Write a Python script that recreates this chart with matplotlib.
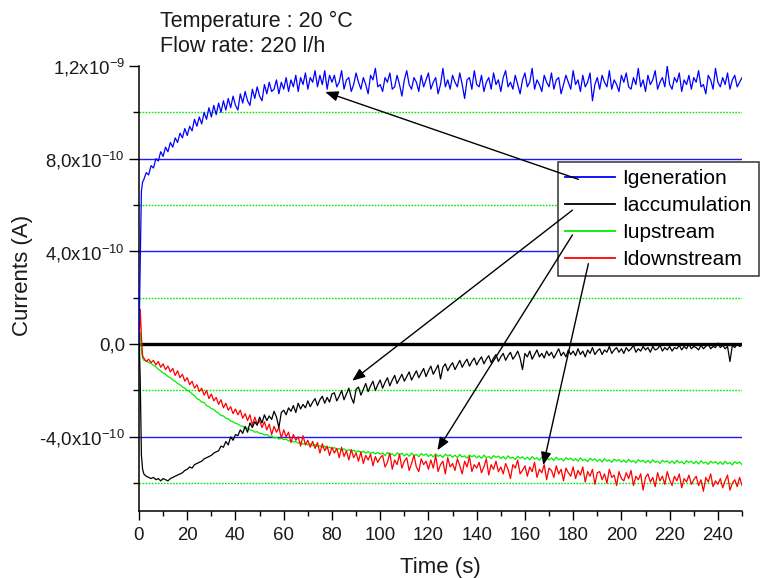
import matplotlib
matplotlib.use('Agg')
import matplotlib.pyplot as plt
import numpy as np
from matplotlib.ticker import FixedLocator

plt.rcParams['font.family'] = ['Liberation Sans', 'DejaVu Sans']
plt.rcParams['mathtext.fontset'] = 'custom'
plt.rcParams['mathtext.rm'] = 'Liberation Sans'
plt.rcParams['mathtext.it'] = 'Liberation Sans:italic'
plt.rcParams['mathtext.bf'] = 'Liberation Sans:bold'

# ---------------- data (currents in units of 1e-10 A) ----------------
time_s = [0, 0.5, 1, 1.5] + list(range(2, 251))

i_generation = [
    0.0, 3.5, 6.6, 7.0,
    7.1, 7.4, 7.3, 7.7, 7.6, 8.0, 7.9, 8.3, 8.1,
    8.5, 8.3, 8.7, 8.5, 8.9, 8.7, 9.1, 8.9, 9.3, 9.0,
    9.4, 9.2, 9.7, 9.4, 9.8, 9.5, 10.0, 9.7, 10.2, 9.8,
    10.3, 9.9, 10.4, 10.0, 10.5, 10.1, 10.6, 10.2, 10.7, 10.3,
    10.1, 10.8, 10.4, 10.9, 10.5, 10.3, 11.0, 10.6, 11.1, 10.7,
    10.5, 11.2, 10.8, 11.3, 10.9, 11.0, 11.4, 10.8, 11.3, 11.0,
    11.5, 10.9, 11.4, 11.1, 11.6, 10.9, 11.5, 11.2, 11.7, 11.0,
    11.5, 11.3, 11.8, 11.1, 11.6, 11.2, 11.8, 11.0, 11.6, 11.3,
    11.6, 11.1, 11.3, 11.8, 11.0, 11.4, 11.5, 10.9, 11.2, 11.7,
    11.3, 11.0, 11.5, 11.2, 10.8, 11.6, 11.4, 11.9, 11.1, 11.2,
    10.9, 11.5, 11.3, 11.7, 11.0, 11.1, 11.6, 11.2, 10.7, 11.4,
    11.8, 11.2, 11.0, 11.5, 11.3, 10.9, 11.6, 11.1, 11.4, 11.7,
    11.0, 11.3, 11.5, 10.8, 11.2, 11.9, 11.1, 11.4, 11.0, 11.6,
    11.3, 11.1, 11.7, 11.2, 10.6, 11.4, 11.5, 11.0, 11.8, 11.2,
    11.1, 11.6, 10.9, 11.3, 11.5, 11.0, 11.7, 11.2, 11.4, 10.9,
    11.5, 11.8, 11.1, 11.3, 11.0, 11.6, 11.2, 10.8, 11.4, 11.7,
    11.1, 11.3, 11.9, 11.0, 11.4, 11.2, 10.9, 11.6, 11.3, 11.1,
    11.7, 11.0, 11.4, 11.5, 10.8, 11.2, 11.6, 11.3, 11.0, 11.8,
    11.2, 11.4, 10.9, 11.6, 11.1, 11.3, 11.7, 10.5, 11.2, 11.5,
    11.0, 11.6, 11.3, 11.1, 11.8, 11.0, 11.4, 11.2, 10.9, 11.6,
    11.3, 11.7, 11.1, 11.0, 11.5, 11.2, 11.9, 11.1, 11.4, 10.9,
    11.6, 11.2, 11.4, 11.8, 11.0, 11.3, 11.5, 11.1, 12.0, 11.2,
    11.0, 11.5, 11.3, 11.7, 10.9, 11.4, 11.2, 11.6, 11.0, 11.5,
    11.3, 11.8, 11.1, 11.2, 10.8, 11.6, 11.4, 11.0, 11.9, 11.3,
    11.1, 11.5, 11.2, 11.7, 11.0, 11.4, 11.6, 11.1, 11.3, 11.5,
]

i_accumulation = [
    0.5, -1.5, -4.8, -5.4,
    -5.6, -5.7, -5.75, -5.8, -5.75, -5.85, -5.8, -5.9, -5.8,
    -5.85, -5.9, -5.8, -5.75, -5.7, -5.65, -5.6, -5.55, -5.45, -5.4,
    -5.3, -5.35, -5.2, -5.15, -5.1, -5.05, -4.95, -4.9, -4.85, -4.8,
    -4.7, -4.65, -4.6, -4.4, -4.45, -4.2, -4.35, -4.0, -4.15, -3.9,
    -3.95, -3.7, -3.85, -3.55, -3.8, -3.4, -3.6, -3.35, -3.5, -3.15,
    -3.4, -3.05, -3.3, -3.1, -3.25, -2.9, -3.15, -3.6, -2.95, -2.85,
    -3.05, -2.75, -2.9, -2.65, -2.95, -2.55, -2.8, -2.6, -2.75, -2.45,
    -2.7, -2.5, -2.35, -2.65, -2.4, -2.25, -2.55, -2.3, -2.5, -2.15,
    -2.1, -2.45, -2.25, -2.0, -2.4, -2.15, -1.9, -2.3, -2.55, -1.95,
    -1.85, -2.2, -1.95, -1.7, -2.05, -1.8, -1.6, -2.0, -1.75, -1.55,
    -1.9, -1.65, -1.45, -1.8, -1.55, -1.35, -1.7, -1.5, -1.3, -1.6,
    -1.4, -1.2, -1.55, -1.35, -1.15, -1.45, -1.25, -1.05, -1.4, -1.15,
    -0.95, -1.3, -1.1, -0.9, -1.5, -1.0, -0.85, -1.15, -0.95, -0.8,
    -1.1, -0.9, -0.7, -1.0, -0.8, -0.65, -0.95, -0.75, -0.6, -0.9,
    -0.7, -0.55, -0.85, -0.65, -0.5, -0.8, -0.6, -0.45, -0.75, -0.55,
    -0.4, -0.7, -0.5, -0.35, -0.65, -0.5, -0.3, -0.6, -1.1, -0.4,
    -0.55, -0.3, -0.65, -0.45, -0.25, -0.55, -0.4, -0.6, -0.3, -0.5,
    -0.35, -0.6, -0.4, -0.2, -0.5, -0.35, -0.55, -0.25, -0.45, -0.3,
    -0.5, -0.2, -0.45, -0.3, -0.55, -0.25, -0.4, -0.15, -0.45, -0.3,
    -0.2, -0.45, -0.25, -0.35, -0.1, -0.4, -0.25, -0.15, -0.35, -0.2,
    -0.4, -0.15, -0.3, -0.2, -0.05, -0.35, -0.2, -0.3, -0.1, -0.25,
    -0.15, -0.35, -0.1, -0.25, -0.2, -0.05, -0.3, -0.15, -0.25, -0.1,
    -0.3, -0.15, -0.2, -0.05, -0.25, -0.1, -0.2, 0.0, -0.2, -0.1,
    -0.15, -0.25, -0.05, -0.2, -0.1, 0.0, -0.2, -0.1, -0.15, 0.05,
    -0.15, -0.05, -0.2, -0.1, -0.75, -0.05, -0.15, 0.0, -0.1, -0.05,
]

i_upstream = [
    0.0, 0.5, -0.3, -0.6,
    -0.7, -0.72, -0.8, -0.83, -0.92, -0.98, -1.08, -1.15, -1.25,
    -1.3, -1.4, -1.45, -1.55, -1.6, -1.7, -1.75, -1.85, -1.9, -2.0,
    -2.05, -2.15, -2.22, -2.35, -2.4, -2.5, -2.52, -2.65, -2.7, -2.78,
    -2.82, -2.92, -2.98, -3.08, -3.1, -3.2, -3.22, -3.32, -3.35, -3.42,
    -3.45, -3.52, -3.55, -3.62, -3.62, -3.7, -3.72, -3.8, -3.78, -3.85,
    -3.86, -3.92, -3.9, -3.98, -3.96, -4.05, -4.02, -4.1, -4.06, -4.12,
    -4.1, -4.18, -4.15, -4.22, -4.2, -4.28, -4.24, -4.32, -4.28, -4.35,
    -4.3, -4.38, -4.34, -4.42, -4.38, -4.46, -4.4, -4.5, -4.44, -4.52,
    -4.46, -4.55, -4.5, -4.58, -4.52, -4.6, -4.55, -4.63, -4.57, -4.66,
    -4.6, -4.68, -4.62, -4.7, -4.64, -4.72, -4.66, -4.74, -4.67, -4.75,
    -4.70, -4.81, -4.67, -4.78, -4.73, -4.83, -4.69, -4.77, -4.71, -4.82,
    -4.73, -4.84, -4.70, -4.81, -4.76, -4.86, -4.72, -4.80, -4.74, -4.85,
    -4.76, -4.87, -4.73, -4.84, -4.79, -4.89, -4.75, -4.83, -4.77, -4.88,
    -4.79, -4.90, -4.76, -4.87, -4.82, -4.92, -4.78, -4.86, -4.80, -4.91,
    -4.82, -4.93, -4.79, -4.90, -4.85, -4.95, -4.81, -4.89, -4.83, -4.94,
    -4.85, -4.96, -4.82, -4.93, -4.88, -4.98, -4.84, -4.92, -4.86, -4.97,
    -4.88, -4.99, -4.85, -4.96, -4.91, -5.01, -4.87, -4.95, -4.89, -5.00,
    -4.91, -5.02, -4.88, -4.99, -4.94, -5.04, -4.90, -4.98, -4.92, -5.03,
    -4.94, -5.05, -4.91, -5.02, -4.97, -5.07, -4.93, -5.01, -4.95, -5.06,
    -4.97, -5.08, -4.94, -5.05, -5.00, -5.10, -4.96, -5.04, -4.98, -5.09,
    -5.00, -5.11, -4.97, -5.08, -5.03, -5.13, -4.99, -5.07, -5.01, -5.12,
    -5.02, -5.13, -4.99, -5.10, -5.05, -5.15, -5.01, -5.09, -5.03, -5.14,
    -5.04, -5.15, -5.01, -5.12, -5.07, -5.17, -5.03, -5.11, -5.05, -5.16,
    -5.06, -5.17, -5.03, -5.14, -5.09, -5.19, -5.05, -5.13, -5.07, -5.18,
    -5.08, -5.19, -5.05, -5.16, -5.11, -5.21, -5.07, -5.15, -5.09, -5.20,
]

i_downstream = [
    0.0, 1.5, 0.3, -0.5,
    -0.6, -0.75, -0.65, -0.8, -0.7, -0.9, -0.75, -1.0, -0.85,
    -1.1, -0.95, -1.2, -1.05, -1.35, -1.15, -1.45, -1.3, -1.6, -1.45,
    -1.75, -1.6, -1.9, -1.75, -2.05, -1.9, -2.2, -2.0, -2.35, -2.15,
    -2.45, -2.3, -2.6, -2.4, -2.75, -2.55, -2.85, -2.7, -3.0, -2.8,
    -3.05, -2.85, -3.2, -3.0, -3.3, -3.05, -3.5, -3.15, -3.45, -3.3,
    -3.6, -3.35, -3.7, -3.45, -3.9, -3.55, -3.8, -3.6, -4.05, -3.7,
    -4.0, -3.8, -4.25, -3.9, -4.15, -4.0, -4.4, -3.95, -4.35, -4.15,
    -4.45, -4.2, -4.5, -4.25, -4.7, -4.3, -4.6, -4.4, -4.8, -4.45,
    -4.7, -4.5, -4.9, -4.45, -4.85, -4.6, -5.0, -4.55, -4.9, -4.7,
    -5.05, -4.65, -5.15, -4.8, -5.0, -4.75, -5.25, -4.85, -5.1, -4.9,
    -4.8, -5.3, -5.1, -4.7, -5.4, -5.0, -5.2, -4.75, -5.35, -5.05,
    -4.9, -5.45, -5.15, -4.8, -5.3, -5.5, -4.95, -5.2, -5.05, -5.4,
    -5.0, -5.35, -4.8, -5.5, -5.2, -5.05, -5.6, -4.9, -5.3, -5.15,
    -5.45, -4.95, -5.25, -5.6, -5.05, -5.3, -4.85, -5.5, -5.2, -5.35,
    -5.1, -5.55, -5.3, -4.95, -5.65, -5.2, -5.4, -5.05, -5.5, -5.3,
    -5.6, -5.15, -5.4, -5.8, -5.2, -5.35, -5.0, -5.6, -5.45, -5.25,
    -5.7, -5.3, -5.5, -5.1, -5.75, -5.4, -5.55, -5.2, -5.85, -5.35,
    -5.45, -5.75, -5.25, -5.6, -5.4, -5.9, -5.35, -5.55, -5.7, -5.3,
    -5.8, -5.45, -5.65, -5.3, -5.95, -5.5, -5.7, -5.4, -6.05, -5.55,
    -5.5, -5.85, -5.6, -6.0, -5.4, -5.75, -5.65, -6.1, -5.5, -5.8,
    -5.9, -5.55, -5.8, -5.45, -6.1, -5.7, -5.85, -5.6, -6.3, -5.75,
    -5.6, -5.95, -5.75, -6.15, -5.55, -5.9, -5.7, -6.05, -5.5, -5.85,
    -6.1, -5.7, -5.9, -5.6, -6.2, -5.8, -5.95, -5.65, -6.05, -5.85,
    -5.7, -6.1, -5.85, -6.35, -5.75, -5.95, -5.6, -6.15, -5.9, -6.05,
    -5.8, -6.2, -5.9, -5.65, -6.3, -6.0, -5.85, -6.15, -5.75, -6.1,
]

series_labels = ['Igeneration', 'Iaccumulation', 'Iupstream', 'Idownstream']
series_colors = ['#0000ff', '#000000', '#00ee00', '#ff0000']
unit = 1e-10

y_major = [-4e-10, 0.0, 4e-10, 8e-10, 1.2e-9]
y_major_labels = [r'-4,0x10$^{\mathregular{-10}}$', '0,0',
                  r'4,0x10$^{\mathregular{-10}}$', r'8,0x10$^{\mathregular{-10}}$',
                  r'1,2x10$^{\mathregular{-9}}$']
y_minor = [-6e-10, -2e-10, 2e-10, 6e-10, 1e-9]
blue_grid = [-4e-10, 0.0, 4e-10, 8e-10]
x_major = list(range(0, 241, 20))
x_minor = list(range(10, 251, 20))

# ---------------- figure ----------------
fig = plt.figure(figsize=(7.62, 5.78), dpi=100)
ax = fig.add_axes([139 / 762, 1 - 511 / 578, 603 / 762, 445 / 578])
ax.set_xlim(0, 250)
ax.set_ylim(-7.2e-10, 1.2e-9)

for v in blue_grid:
    ax.axhline(v, color='#1a1aff', lw=1.0, zorder=1)
for v in y_minor:
    ax.axhline(v, color='#00ee00', lw=1.0, ls=(0, (1.2, 1.0)), zorder=1)
ax.axhline(0.0, color='black', lw=2.4, zorder=1.5)

t = np.array(time_s, dtype=float)
data = [i_generation, i_accumulation, i_upstream, i_downstream]
zorders = [4, 3.5, 2.5, 3]
lines = []
for vals, lab, col, z in zip(data, series_labels, series_colors, zorders):
    ln, = ax.plot(t, np.array(vals) * unit, color=col, lw=0.9, label=lab, zorder=z)
    lines.append(ln)

ax.spines['top'].set_visible(False)
ax.spines['right'].set_visible(False)
for s in ('left', 'bottom'):
    ax.spines[s].set_linewidth(1.1)
    ax.spines[s].set_color('black')

ax.yaxis.set_major_locator(FixedLocator(y_major))
ax.set_yticklabels(y_major_labels)
ax.yaxis.set_minor_locator(FixedLocator(y_minor))
ax.xaxis.set_major_locator(FixedLocator(x_major))
ax.xaxis.set_minor_locator(FixedLocator(x_minor))
ax.tick_params(axis='both', which='both', direction='out', colors='black',
               labelcolor='#1a1a1a', labelsize=13.4, width=1.0)
ax.tick_params(axis='y', which='major', length=7, pad=3)
ax.tick_params(axis='y', which='minor', length=4.5)
ax.tick_params(axis='x', which='major', length=6.5, pad=5)
ax.tick_params(axis='x', which='minor', length=3.5)

ax.set_xlabel('Time (s)', fontsize=16, color='#1a1a1a')
ax.set_ylabel('Currents (A)', fontsize=16, color='#1a1a1a')
ax.xaxis.set_label_coords(0.5, (511 - 567) / 445)
ax.xaxis.label.set_va('center')
ax.yaxis.set_label_coords((23 - 139) / 603, (511 - 275) / 445)
ax.yaxis.label.set_va('center')

fig.text(160 / 762, 1 - 21 / 578, 'Temperature : 20 °C', fontsize=15.5,
         color='#1a1a1a', va='center', ha='left')
fig.text(160 / 762, 1 - 47 / 578, 'Flow rate: 220 l/h', fontsize=15.5,
         color='#1a1a1a', va='center', ha='left')

leg = ax.legend(handles=lines, loc='upper left',
                bbox_to_anchor=(558 / 762, 1 - 162 / 578),
                bbox_transform=fig.transFigure, frameon=True, fancybox=False,
                fontsize=15, handlelength=2.4, handletextpad=0.35,
                labelspacing=0.38, borderpad=0.35, borderaxespad=0)
leg.get_frame().set_edgecolor('#333333')
leg.get_frame().set_linewidth(1.1)
leg.get_frame().set_alpha(1.0)
leg.set_zorder(5)
for h in leg.legend_handles:
    h.set_linewidth(1.3)

# arrows from legend entries to curves (tail, tip) in data coordinates
arrow_pairs = [((182.2, 7.11), (77.2, 10.88)),
               ((179.7, 5.78), (88.4, -1.58)),
               ((179.7, 4.71), (123.7, -4.58)),
               ((186.3, 3.47), (167.6, -5.22))]
for (tx, ty), (hx, hy) in arrow_pairs:
    ax.annotate('', xy=(hx, hy * unit), xytext=(tx, ty * unit),
                arrowprops=dict(arrowstyle='-|>,head_length=0.55,head_width=0.22',
                                color='black', lw=1.0, shrinkA=0, shrinkB=0,
                                mutation_scale=14),
                zorder=6, annotation_clip=False)

fig.savefig('out.png', dpi=100)
